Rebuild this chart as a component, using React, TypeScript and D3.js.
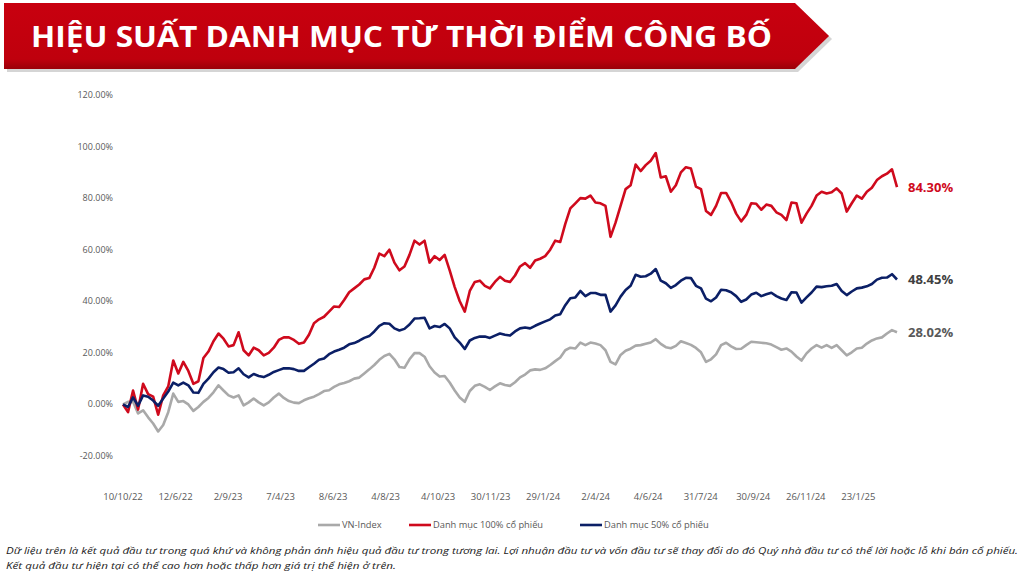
import React from 'react';
import * as d3 from 'd3';

// values, one every ~5px of the plot
const vnIndex: number[] = [
    0, 1, 1, -3.5, -2.3, -5, -7.4, -10.5, -8, -3, 4.2, 1, 1.3, 0, -2.5, -1, 1, 2.5, 4.7, 7.4,
    5.4, 3.5, 2.7, 3.5, -0.4, 0.8, 2.3, 0.8, -0.4, 0.8, 2.7, 4.2, 2.5, 1.3, 0.7, 0.5, 1.6, 2.4, 3, 4,
    5.2, 5.5, 6.8, 7.8, 8.3, 9, 10, 10.4, 12, 13.6, 15.3, 17.3, 18.8, 19.6, 17.5, 14.5, 14.2, 17.5, 19.9, 19.9,
    18.5, 14.8, 12.4, 10.8, 11, 8.5, 5.4, 2.7, 1, 5.2, 7.2, 7.8, 6.8, 5.6, 7, 8.2, 7.5, 7.2, 8.6, 10.5,
    11.6, 13.2, 13.6, 13.4, 14, 15.3, 16.8, 18.2, 21, 22, 21.7, 24, 23, 24, 23.6, 23, 21, 16.5, 15.5, 19.2,
    20.8, 21.6, 22.8, 23, 23.5, 24, 25.3, 23.5, 22.2, 21.8, 22.7, 24.5, 23.8, 23.1, 21.9, 20.2, 16.5, 17.5, 19.4, 23,
    23.9, 22.5, 21.5, 21.6, 23, 24.3, 24.1, 23.9, 23.7, 23.2, 22.2, 21.2, 21.7, 20.5, 18.6, 17, 19.8, 21.7, 23, 22,
    23, 21.9, 23, 21, 19, 20.2, 21.7, 22, 23.6, 24.8, 25.6, 26, 27.5, 28.8, 28.02,
];

const full: number[] = [
    0, -3, 5.4, -2, 8, 4, 3, -4, 3.5, 7, 17, 12, 16.5, 13, 8, 9, 18, 20.5, 24.5, 27.5,
    25.5, 22.5, 23, 28, 21, 19, 22, 21, 19, 20, 22, 25, 26, 26, 25, 23.5, 24, 27, 31.5, 33,
    34, 36, 38, 37.8, 40.5, 43.5, 45, 46.5, 48.5, 49, 53, 58.5, 57.5, 60, 55, 52, 53.5, 58, 63.5, 62,
    63.5, 55, 57.5, 56, 58, 52, 45.5, 40, 36, 44, 47.5, 48, 46, 45, 47.5, 49.5, 48, 47.5, 50, 53.5,
    54.8, 53, 55.8, 56.5, 57.5, 60, 63.5, 63, 70, 76, 78, 80, 79.8, 81, 78.3, 78, 77, 65, 70.5, 77,
    83.5, 85, 93, 90.5, 92.8, 94.5, 97.5, 88, 88.5, 82.5, 85, 90, 92, 91.5, 84.5, 83.5, 75, 73.5, 77, 82,
    82, 78.5, 74, 71, 73.5, 78, 77.8, 75.5, 77.5, 77, 74.5, 73.5, 71.5, 78.3, 78, 70.5, 74, 77, 81, 82.5,
    81.8, 82.3, 83.8, 81.8, 74.8, 78, 81, 79.8, 82.5, 84, 87, 88.5, 89.5, 91.2, 84.3,
];

const half: number[] = [
    0, -1, 2.7, -0.5, 3.5, 3, 1.5, -0.5, 2.3, 5, 8.5, 7.4, 8.5, 7.4, 4.6, 4.5, 8, 10, 12.5, 14.3,
    13.7, 12.3, 12.5, 14, 11.7, 10.5, 11.8, 11, 10.6, 11.5, 12.6, 13.3, 14, 14, 13.7, 13, 13, 14.4, 15.8, 17.3,
    17.8, 19.5, 20.5, 21.2, 22, 23.3, 23.8, 24.7, 25.8, 26.5, 28.3, 30.5, 31.5, 31.3, 29.5, 28.7, 29.3, 31, 33.3, 33.4,
    33.6, 29.5, 30.4, 30, 31.2, 29.5, 26, 24, 21.5, 24.8, 25.8, 26.3, 26.3, 25.8, 26.7, 27.5, 27, 26.7, 28.3, 29.5,
    29.8, 29.5, 30.5, 31.4, 32.2, 33, 34.5, 35, 38.5, 41.2, 41.5, 44, 42, 43.2, 43.2, 42.5, 42.5, 36, 38.4, 41.8,
    44.4, 46, 50.3, 49.5, 49.7, 50.7, 52.5, 48, 47, 45.2, 46.3, 48, 49.1, 49, 46, 45, 41, 40, 41.5, 44.5,
    44.3, 43.5, 42, 39.8, 40.7, 42.6, 43.3, 42, 42.7, 43.3, 42, 41.1, 40.5, 43.5, 43.4, 39.5, 41.5, 43.4, 45.7, 45.5,
    45.8, 46, 46.7, 44, 42.4, 43.8, 45, 45.3, 45.8, 46.7, 48.4, 49.1, 49.2, 50.5, 48.45,
];

const dateLabels = [
    '10/10/22', '12/6/22', '2/9/23', '7/4/23', '8/6/23', '4/8/23', '4/10/23', '30/11/23',
    '29/1/24', '2/4/24', '4/6/24', '31/7/24', '30/9/24', '26/11/24', '23/1/25',
];
// samples between two date labels on the category axis
const labelEvery = 10.45;
const yTicks = [-20, 0, 20, 40, 60, 80, 100, 120];

const seriesNames = ['VN-Index', 'Danh mục 100% cổ phiếu', 'Danh mục 50% cổ phiếu'];
const endLabels = ['28.02%', '84.30%', '48.45%'];

const W = 1024;
const H = 579;
const RED = '#cf0a1d';
const NAVY = '#0b1f66';
const GREY = '#a9a9a9';
const font = "'Open Sans', 'DejaVu Sans', sans-serif";

const App: React.FC = () => {
    const x = d3.scaleLinear().domain([0, full.length - 1]).range([123, 897]);
    const y = d3.scaleLinear().domain([-20, 120]).range([456, 95]);

    const line = d3.line<number>()
        .x((_, i) => x(i))
        .y(d => y(d))
        .curve(d3.curveLinear);

    const series = [
        { values: vnIndex, color: GREY, labelColor: '#595959' },
        { values: full, color: RED, labelColor: RED },
        { values: half, color: NAVY, labelColor: '#404040' },
    ];

    const legendX = [318, 409, 580];

    return (
        <svg width={W} height={H} style={{ position: 'absolute', left: 0, top: 0, background: '#fff' }}>
            <defs>
                <linearGradient id="banner" x1="0" y1="0" x2="0" y2="1">
                    <stop offset="0" stopColor="#c8000f" />
                    <stop offset="0.85" stopColor="#bf000d" />
                    <stop offset="1" stopColor="#9a0008" />
                </linearGradient>
            </defs>

            {/* title banner */}
            <polygon points="7,6 798,6 832,39 798,72 7,72" fill="#b9b9b9" opacity={0.6} />
            <polygon points="4,3 795,3 829,36 795,69 4,69" fill="url(#banner)" />
            <text x={31} y={47} fill="#fff" fontFamily={font} fontWeight={700} fontSize={29}
                textLength={741} lengthAdjust="spacingAndGlyphs">
                HIỆU SUẤT DANH MỤC TỪ THỜI ĐIỂM CÔNG BỐ
            </text>

            {/* y axis labels */}
            {yTicks.map(t => (
                <text key={t} x={113} y={y(t) + 3} textAnchor="end" fontFamily={font} fontSize={9} fill="#595959">
                    {`${t.toFixed(2)}%`}
                </text>
            ))}

            {/* x axis labels */}
            {dateLabels.map((d, k) => (
                <text key={d} x={x(k * labelEvery)} y={500} textAnchor="middle" fontFamily={font}
                    fontSize={9.5} fill="#595959">
                    {d}
                </text>
            ))}

            {/* lines */}
            {series.map((s, i) => (
                <path key={i} d={line(s.values) || ''} fill="none" stroke={s.color} strokeWidth={2.6}
                    strokeLinejoin="round" />
            ))}

            {/* end labels */}
            {series.map((s, i) => (
                <text key={i} x={908} y={y(s.values[s.values.length - 1]) + 5} fontFamily={font} fontWeight={700}
                    fontSize={13} fill={s.labelColor}>
                    {endLabels[i]}
                </text>
            ))}

            {/* legend */}
            {series.map((s, i) => (
                <g key={i} transform={`translate(${legendX[i]},525)`}>
                    <line x1={0} x2={22} y1={0} y2={0} stroke={s.color} strokeWidth={2.6} />
                    <text x={24} y={3.3} fontFamily={font} fontSize={9.3} fill="#595959">{seriesNames[i]}</text>
                </g>
            ))}

            {/* footnote */}
            <text x={6} y={554} fontFamily={font} fontStyle="italic" fontSize={9.5} fill="#222"
                textLength={1012} lengthAdjust="spacingAndGlyphs">
                Dữ liệu trên là kết quả đầu tư trong quá khứ và không phản ánh hiệu quả đầu tư trong tương lai. Lợi nhuận đầu tư và vốn đầu tư sẽ thay đổi do đó Quý nhà đầu tư có thể lời hoặc lỗ khi bán cổ phiếu.
            </text>
            <text x={6} y={569} fontFamily={font} fontStyle="italic" fontSize={9.5} fill="#222"
                textLength={390} lengthAdjust="spacingAndGlyphs">
                Kết quả đầu tư hiện tại có thể cao hơn hoặc thấp hơn giá trị thể hiện ở trên.
            </text>
        </svg>
    );
};

export default App;
